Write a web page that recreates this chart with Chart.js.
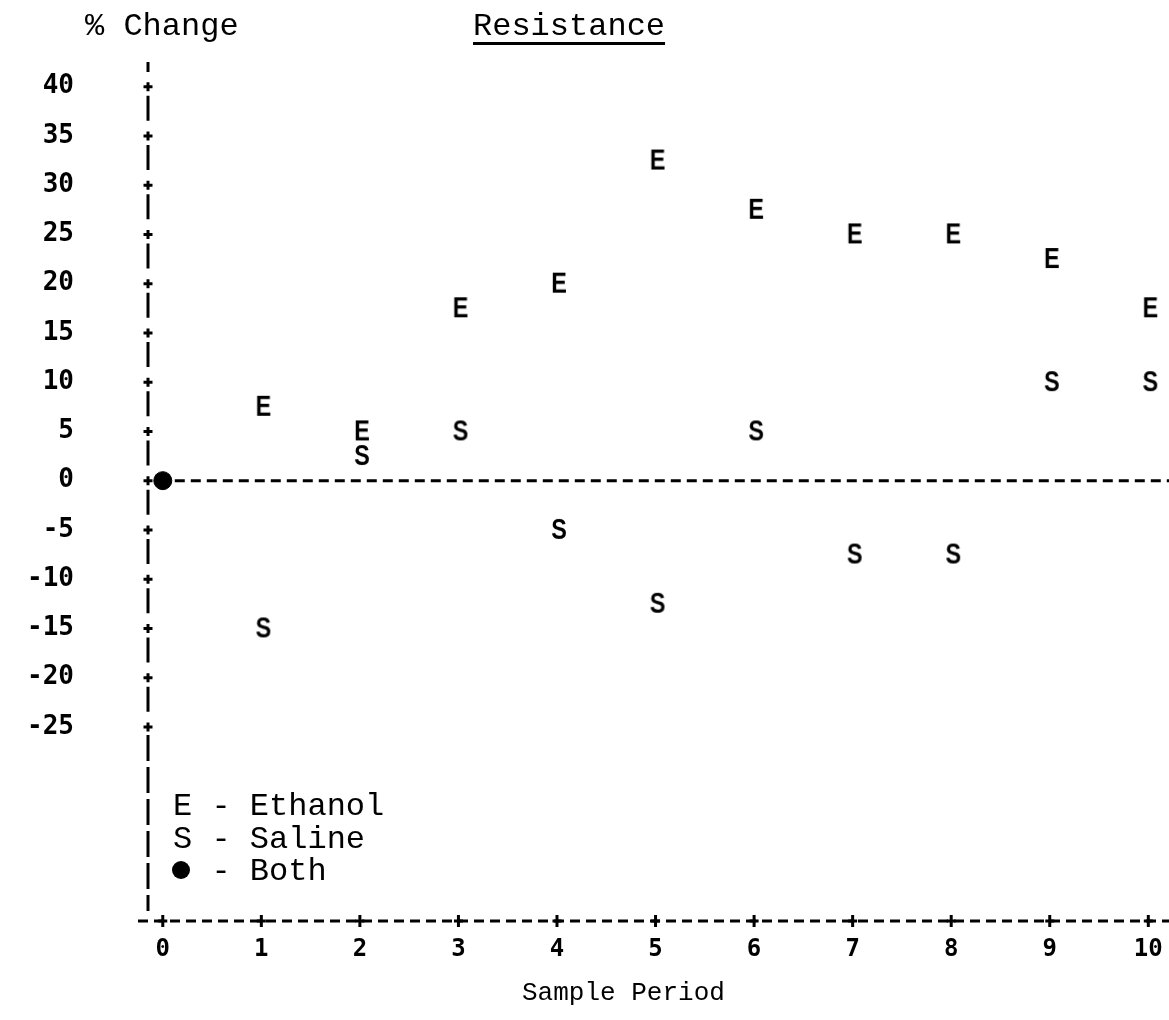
<!DOCTYPE html>
<html>
<head>
<meta charset="utf-8">
<title>Resistance</title>
<script src="https://cdn.jsdelivr.net/npm/chart.js@4.4.1/dist/chart.umd.min.js"></script>
<style>
	body { margin: 0; background: #fff; }
	canvas { display: block; }
</style>
</head>
<body>
<canvas id="chart" width="1169" height="1020"></canvas>
<script>
// sample periods and % change in resistance for each treatment
const periods = [1, 2, 3, 4, 5, 6, 7, 8, 9, 10]
const ethanol = [7.5, 5, 17.5, 20, 32.5, 27.5, 25, 25, 22.5, 17.5]
const saline = [-15, 2.5, 5, -5, -12.5, 5, -7.5, -7.5, 10, 10]
// period 0 is the same for both groups
const bothPeriods = [0]
const bothValues = [0]

const xTicks = [0, 1, 2, 3, 4, 5, 6, 7, 8, 9, 10]
const xTickLabels = ["0", "1", "2", "3", "4", "5", "6", "7", "8", "9", "10"]
const yTicks = [-25, -20, -15, -10, -5, 0, 5, 10, 15, 20, 25, 30, 35, 40]
const yTickLabels = ["-25", "-20", "-15", "-10", "-5", "0", "5", "10", "15", "20", "25", "30", "35", "40"]

const typeFont = "\"Liberation Mono\", \"Courier New\", monospace"
const digitFont = "\"DejaVu Sans Mono\", monospace"

function toPoints(xs, ys) {
	return xs.map((x, i) => ({ x: x, y: ys[i] }))
}

// typed letters used as point markers
function letterMarker(ch) {
	let c = document.createElement("canvas")
	c.width = 22
	c.height = 28
	let g = c.getContext("2d")
	g.fillStyle = "#000"
	g.textAlign = "center"
	g.textBaseline = "middle"
	g.translate(13, 14)
	g.scale(0.78, 1)
	g.font = "bold 30px \"Liberation Sans\", sans-serif"
	g.fillText(ch, 0, 1)
	return c
}

const eMarker = letterMarker("E")
const sMarker = letterMarker("S")

function plus(ctx, x, y, w, h) {
	ctx.beginPath()
	ctx.moveTo(x - w / 2, y)
	ctx.lineTo(x + w / 2, y)
	ctx.moveTo(x, y - h / 2)
	ctx.lineTo(x, y + h / 2)
	ctx.stroke()
}

// the big tick padding would otherwise push the plot area in
function noScalePadding(scale) {
	scale.paddingTop = 0
	scale.paddingBottom = 0
	scale.paddingLeft = 0
	scale.paddingRight = 0
}

// typewriter style axes: dashed lines with + at every tick
const typedAxes = {
	id: "typedAxes",
	beforeDatasetsDraw(chart) {
		let ctx = chart.ctx
		let xs = chart.scales.x
		let ys = chart.scales.y
		let area = chart.chartArea
		let ax = area.left
		ctx.save()
		ctx.strokeStyle = "#000"
		ctx.lineWidth = 3

		// vertical axis
		let tickPx = yTicks.map(v => ys.getPixelForValue(v)).sort((a, b) => a - b)
		ctx.beginPath()
		ctx.moveTo(ax, area.top)
		ctx.lineTo(ax, area.top + 10)
		for(let i = 0; i < tickPx.length - 1; i++) {
			ctx.moveTo(ax, tickPx[i] + 9)
			ctx.lineTo(ax, tickPx[i] + 34)
		}
		ctx.stroke()
		ctx.setLineDash([26, 6])
		ctx.beginPath()
		ctx.moveTo(ax, tickPx[tickPx.length - 1] + 8)
		ctx.lineTo(ax, area.bottom - 10)
		ctx.stroke()
		ctx.setLineDash([])
		for(let p of tickPx) {
			plus(ctx, ax, p, 9, 9)
		}

		// horizontal axis along the bottom
		ctx.setLineDash([10, 6])
		ctx.beginPath()
		ctx.moveTo(ax - 10, area.bottom)
		ctx.lineTo(area.right, area.bottom)
		ctx.stroke()
		ctx.setLineDash([])
		for(let v of xTicks) {
			plus(ctx, xs.getPixelForValue(v), area.bottom, 9, 12)
		}

		// zero line
		let y0 = ys.getPixelForValue(0)
		ctx.setLineDash([10, 6])
		ctx.beginPath()
		ctx.moveTo(xs.getPixelForValue(0) + 12, y0)
		ctx.lineTo(area.right, y0)
		ctx.stroke()
		ctx.restore()
	},
	afterDraw(chart) {
		let ctx = chart.ctx
		ctx.save()
		ctx.fillStyle = "#000"
		ctx.textBaseline = "alphabetic"
		ctx.textAlign = "left"
		ctx.font = "32px " + typeFont
		ctx.fillText("% Change", 85, 35)
		ctx.fillText("Resistance", 473, 35)
		let w = ctx.measureText("Resistance").width
		ctx.fillRect(473, 42, w, 3)

		// key
		ctx.fillText("E - Ethanol", 173, 815)
		ctx.fillText("S - Saline", 173, 848)
		ctx.fillText("  - Both", 173, 880)
		ctx.beginPath()
		ctx.arc(181, 870, 9, 0, Math.PI * 2)
		ctx.fill()

		ctx.font = "26px " + typeFont
		ctx.fillText("Sample Period", 522, 1000)
		ctx.restore()
	}
}

new Chart(document.getElementById("chart"), {
	type: "scatter",
	data: {
		datasets: [{
			label: "Ethanol",
			data: toPoints(periods, ethanol),
			pointStyle: eMarker,
			pointRadius: 10
		}, {
			label: "Saline",
			data: toPoints(periods, saline),
			pointStyle: sMarker,
			pointRadius: 10
		}, {
			label: "Both",
			data: toPoints(bothPeriods, bothValues),
			pointStyle: "circle",
			pointRadius: 9,
			backgroundColor: "#000",
			borderColor: "#000"
		}]
	},
	options: {
		responsive: false,
		animation: false,
		devicePixelRatio: 1,
		layout: { autoPadding: false, padding: { top: 62, left: 0, right: 0, bottom: 0 } },
		plugins: {
			legend: { display: false },
			tooltip: { enabled: false }
		},
		scales: {
			x: {
				type: "linear",
				min: -0.15,
				max: 10.21,
				afterFit: (scale) => {
					scale.height = 99
					noScalePadding(scale)
				},
				afterBuildTicks: (scale) => { scale.ticks = xTicks.map(v => ({ value: v })) },
				grid: { display: false, drawTicks: false },
				border: { display: false },
				ticks: {
					padding: 14,
					color: "#000",
					font: { family: digitFont, size: 24, weight: "bold" },
					callback: (v) => xTickLabels[xTicks.indexOf(v)]
				}
			},
			y: {
				min: -44.7,
				max: 42.5,
				afterFit: (scale) => {
					scale.width = 148
					noScalePadding(scale)
				},
				afterBuildTicks: (scale) => { scale.ticks = yTicks.map(v => ({ value: v })) },
				grid: { display: false, drawTicks: false },
				border: { display: false },
				ticks: {
					padding: 74,
					color: "#000",
					font: { family: digitFont, size: 26, weight: "bold" },
					callback: (v) => yTickLabels[yTicks.indexOf(v)]
				}
			}
		}
	},
	plugins: [typedAxes]
})
</script>
</body>
</html>
